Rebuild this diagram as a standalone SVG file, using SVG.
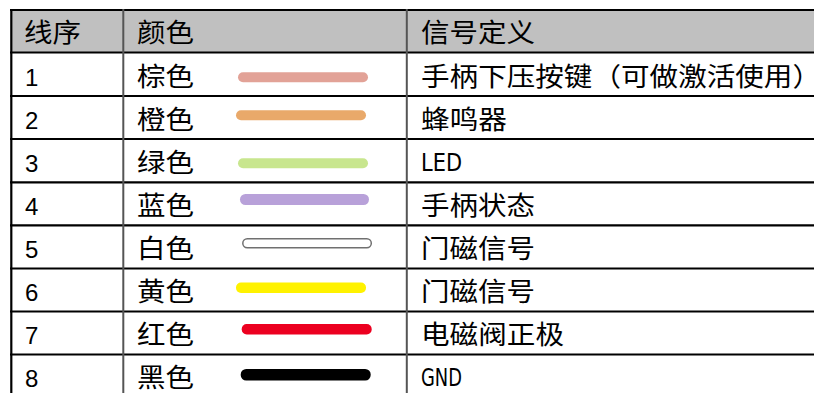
<svg xmlns="http://www.w3.org/2000/svg" width="814" height="393" viewBox="0 0 814 393">
<style>
.hl{stroke:#000;stroke-width:2.2}
.vl{stroke:#555;stroke-width:2}
.cj{font-family:"Noto Sans CJK SC","Noto Sans",sans-serif;font-size:26px;fill:#000}
.num{font-family:"Liberation Sans",Arial,sans-serif;fill:#000}
.lat{font-family:"DejaVu Sans Condensed","DejaVu Sans","Liberation Sans",sans-serif;fill:#000}
</style>
<rect width="814" height="393" fill="#fff"/>
<g id="header">
<rect x="11" y="10" width="803" height="42.5" fill="#c0c0c0"/>
<text class="cj" x="24" y="42" textLength="57" lengthAdjust="spacingAndGlyphs">线序</text>
<text class="cj" x="137" y="42" textLength="57" lengthAdjust="spacingAndGlyphs">颜色</text>
<text class="cj" x="421" y="42" textLength="114" lengthAdjust="spacingAndGlyphs">信号定义</text>
</g>
<g id="grid">
<line class="hl" x1="10" y1="10" x2="814" y2="10"/>
<line class="hl" x1="10" y1="52.5" x2="814" y2="52.5"/>
<line class="hl" x1="10" y1="96" x2="814" y2="96"/>
<line class="hl" x1="10" y1="139" x2="814" y2="139"/>
<line class="hl" x1="10" y1="182.3" x2="814" y2="182.3"/>
<line class="hl" x1="10" y1="225.4" x2="814" y2="225.4"/>
<line class="hl" x1="10" y1="268.5" x2="814" y2="268.5"/>
<line class="hl" x1="10" y1="311.5" x2="814" y2="311.5"/>
<line class="hl" x1="10" y1="354.5" x2="814" y2="354.5"/>
<line x1="11.3" y1="9" x2="11.3" y2="393" stroke="#000" stroke-width="2.2"/>
<line class="vl" x1="123.3" y1="9" x2="123.3" y2="393"/>
<line class="vl" x1="406.8" y1="9" x2="406.8" y2="393"/>
</g>
<g id="row1">
<text class="num" font-size="24" x="25" y="85.5">1</text>
<text class="cj" x="137" y="86" textLength="57" lengthAdjust="spacingAndGlyphs">棕色</text>
<rect x="238" y="72.3" width="130" height="10" rx="5" fill="#e2a297"/>
<text class="cj" x="421" y="86" textLength="400" lengthAdjust="spacingAndGlyphs">手柄下压按键（可做激活使用）</text>
</g>
<g id="row2">
<text class="num" font-size="24" x="25" y="128.5">2</text>
<text class="cj" x="137" y="129" textLength="57" lengthAdjust="spacingAndGlyphs">橙色</text>
<rect x="236" y="110.3" width="130" height="10" rx="5" fill="#e9a96a"/>
<text class="cj" x="421" y="129" textLength="86" lengthAdjust="spacingAndGlyphs">蜂鸣器</text>
</g>
<g id="row3">
<text class="num" font-size="24" x="25" y="171.5">3</text>
<text class="cj" x="137" y="172" textLength="57" lengthAdjust="spacingAndGlyphs">绿色</text>
<rect x="238" y="158.3" width="130" height="10" rx="5" fill="#c8e68e"/>
<text class="lat" font-size="25" x="421" y="171" textLength="41" lengthAdjust="spacingAndGlyphs">LED</text>
</g>
<g id="row4">
<text class="num" font-size="24" x="25" y="214.5">4</text>
<text class="cj" x="137" y="215" textLength="57" lengthAdjust="spacingAndGlyphs">蓝色</text>
<rect x="240" y="194" width="129" height="11" rx="5.5" fill="#b8a1d9"/>
<text class="cj" x="421" y="215" textLength="114" lengthAdjust="spacingAndGlyphs">手柄状态</text>
</g>
<g id="row5">
<text class="num" font-size="24" x="25" y="257.5">5</text>
<text class="cj" x="137" y="258" textLength="57" lengthAdjust="spacingAndGlyphs">白色</text>
<rect x="242.8" y="238.8" width="128.5" height="9" rx="4.5" fill="#fff" stroke="#707070" stroke-width="1.5"/>
<text class="cj" x="421" y="258" textLength="114" lengthAdjust="spacingAndGlyphs">门磁信号</text>
</g>
<g id="row6">
<text class="num" font-size="24" x="25" y="300.5">6</text>
<text class="cj" x="137" y="301" textLength="57" lengthAdjust="spacingAndGlyphs">黄色</text>
<rect x="236" y="282.5" width="130" height="10.5" rx="5" fill="#fff200"/>
<text class="cj" x="421" y="301" textLength="114" lengthAdjust="spacingAndGlyphs">门磁信号</text>
</g>
<g id="row7">
<text class="num" font-size="24" x="25" y="343.5">7</text>
<text class="cj" x="137" y="344" textLength="57" lengthAdjust="spacingAndGlyphs">红色</text>
<rect x="241.7" y="324" width="130" height="10.5" rx="5" fill="#ec0020"/>
<text class="cj" x="421" y="344" textLength="143" lengthAdjust="spacingAndGlyphs">电磁阀正极</text>
</g>
<g id="row8">
<text class="num" font-size="24" x="25" y="386.5">8</text>
<text class="cj" x="137" y="387" textLength="57" lengthAdjust="spacingAndGlyphs">黑色</text>
<rect x="240.7" y="369" width="130" height="11.5" rx="5.5" fill="#000"/>
<text class="lat" font-size="25" x="421" y="386" textLength="41" lengthAdjust="spacingAndGlyphs">GND</text>
</g>
</svg>
